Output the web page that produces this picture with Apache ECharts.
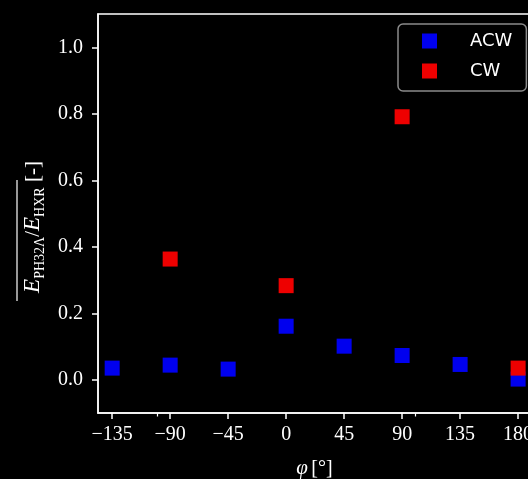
<!DOCTYPE html>
<html>
<head>
<meta charset="utf-8">
<script src="https://cdn.jsdelivr.net/npm/echarts@6/dist/echarts.min.js"></script>
<style>
html,body{margin:0;padding:0;background:#000;}
#c{width:528px;height:479px;}
</style>
</head>
<body>
<div id="c"></div>
<script>
// ---- data ----
const phi = [-135, -90, -45, 0, 45, 90, 135, 180];
const acw = [0.035, 0.044, 0.032, 0.161, 0.101, 0.073, 0.046, 0.002];
const cwPhi = [-90, 0, 90, 180];
const cw = [0.363, 0.283, 0.791, 0.035];
const xTicks = [-135, -90, -45, 0, 45, 90, 135, 180];
const xMinorTicks = [-100, 100];
const yTicks = [0.0, 0.2, 0.4, 0.6, 0.8, 1.0];

const serif = '"Liberation Serif", "DejaVu Serif", serif';
const chart = echarts.init(document.getElementById('c'), null, {renderer: 'canvas'});
const xMin = -146, xMax = 190;

chart.setOption({
  backgroundColor: '#000',
  animation: false,
  grid: {left: 98, top: 14, width: 433, height: 399, show: true, borderColor: '#fff', borderWidth: 1.5, backgroundColor: 'transparent',
    containLabel: false, outerBoundsMode: 'none'},
  legend: {
    left: 398, top: 24, orient: 'vertical',
    data: ['ACW', 'CW'],
    icon: 'rect', itemWidth: 15, itemHeight: 15, itemGap: 12, itemTextGap: 5,
    padding: [8, 14, 11, 24],
    borderColor: '#8a8a8a', borderWidth: 1.5, borderRadius: 5,
    backgroundColor: '#000',
    textStyle: {color: '#fff', fontFamily: '"DejaVu Sans", sans-serif', fontSize: 18, lineHeight: 18, padding: [0, 0, 0, 28]}
  },
  xAxis: [{
    type: 'value', min: xMin, max: xMax,
    splitLine: {show: false},
    axisLine: {show: true, onZero: false, lineStyle: {color: '#fff', width: 1.5}},
    axisTick: {show: true, length: 6, inside: false, lineStyle: {color: '#fff', width: 1.5}, customValues: xTicks},
    axisLabel: {color: '#fff', fontFamily: serif, fontSize: 20, margin: 12, customValues: xTicks,
      formatter: v => (v < 0 ? '\u2212' + (-v) : '' + v)},
    name: '{i|φ} {n|[°]}', nameLocation: 'middle', nameGap: 45,
    nameTextStyle: {color: '#fff', rich: {
      i: {fontFamily: serif, fontStyle: 'italic', fontSize: 21, color: '#fff'},
      n: {fontFamily: serif, fontSize: 20, color: '#fff'}
    }}
  }, {
    type: 'value', min: xMin, max: xMax, position: 'bottom',
    splitLine: {show: false}, axisLine: {show: false, onZero: false}, axisLabel: {show: false},
    axisTick: {show: true, length: 3.5, lineStyle: {color: '#fff', width: 1.2}, customValues: xMinorTicks}
  }],
  yAxis: {
    type: 'value', min: -0.1, max: 1.1,
    splitLine: {show: false},
    axisLine: {show: true, onZero: false, lineStyle: {color: '#fff', width: 1.5}},
    axisTick: {show: true, length: 6, lineStyle: {color: '#fff', width: 1.5}, customValues: yTicks},
    axisLabel: {color: '#fff', fontFamily: serif, fontSize: 20, margin: 15, customValues: yTicks,
      formatter: v => v.toFixed(1)}
  },
  graphic: [{
    type: 'text', x: 31, y: 227, rotation: Math.PI / 2,
    style: {
      text: '{e|E}{s|PH32Λ}{n|/}{e|E}{s|HXR}{n| [-]}',
      align: 'center', verticalAlign: 'middle', fill: '#fff',
      rich: {
        e: {fontFamily: serif, fontStyle: 'italic', fontSize: 23, fill: '#fff', lineHeight: 26, verticalAlign: 'bottom'},
        s: {fontFamily: serif, fontSize: 14, fill: '#fff', lineHeight: 14, verticalAlign: 'bottom', padding: [0, 0, -3, 0]},
        n: {fontFamily: serif, fontSize: 21, fill: '#fff', lineHeight: 26, verticalAlign: 'bottom'}
      }
    }
  }, {
    type: 'line', shape: {x1: 17, y1: 180, x2: 17, y2: 301},
    style: {stroke: '#fff', lineWidth: 1.2}
  }],
  series: [{
    name: 'ACW', type: 'scatter', symbol: 'rect', symbolSize: 15,
    itemStyle: {color: '#0000EE', opacity: 1},
    data: phi.map((p, i) => [p, acw[i]]), z: 2
  }, {
    name: 'CW', type: 'scatter', symbol: 'rect', symbolSize: 15,
    itemStyle: {color: '#EE0000', opacity: 1},
    data: cwPhi.map((p, i) => [p, cw[i]]), z: 3
  }]
});
</script>
</body>
</html>
